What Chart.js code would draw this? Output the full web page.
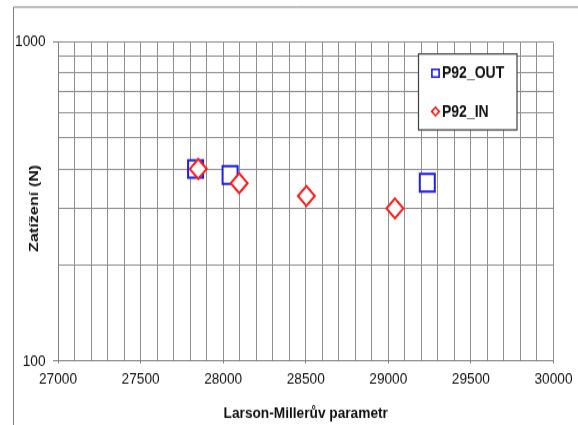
<!DOCTYPE html>
<html>
<head>
<meta charset="utf-8">
<script src="https://cdn.jsdelivr.net/npm/chart.js@4/dist/chart.umd.min.js"></script>
<style>
  html, body { margin: 0; padding: 0; background: #fff; overflow: hidden; }
  /* the drawing is made 360px tall and stretched to the full 425px window height */
  #wrap { position: absolute; left: 0; top: 0; width: 578px; height: 360px;
          transform: scaleY(1.18056); transform-origin: 0 0; }
</style>
</head>
<body>
<div id="wrap"><canvas id="chart"></canvas></div>
<script>
// Creep test results: Larson-Miller parameter vs. load
const seriesNames = ['P92_OUT', 'P92_IN'];
const outParam = [27833, 28042, 29236];
const outLoad  = [400, 383, 362];
const inParam  = [27849, 28097, 28504, 29040];
const inLoad   = [400, 361, 329, 301];

const xTickLabels = [27000, 27500, 28000, 28500, 29000, 29500, 30000];
const yGridValues = [100, 200, 300, 400, 500, 600, 700, 800, 900, 1000];
const yTickLabels = [100, 1000];
const xTitle = 'Larson-Millerův parametr';
const yTitle = 'Zatížení (N)';

const BLUE = '#1e1ee6';
const RED = '#ff1a1a';
const GRID = '#8f8f8f';
const FONT = "'Liberation Sans', Arial, sans-serif";

Chart.defaults.font.family = FONT;

const pts = (xs, ys) => xs.map((x, i) => ({ x: x, y: ys[i] }));

// outer frame of the figure
const framePlugin = {
  id: 'frame',
  beforeDraw(chart) {
    const ctx = chart.ctx;
    ctx.save();
    ctx.fillStyle = '#fff';
    ctx.fillRect(0, 0, chart.width, chart.height);
    ctx.strokeStyle = '#808080';
    ctx.lineWidth = 1;
    ctx.beginPath();
    ctx.moveTo(13.5, chart.height + 2);
    ctx.lineTo(13.5, 6);
    ctx.lineTo(chart.width + 2, 6);
    ctx.stroke();
    ctx.restore();
  }
};

// vertical axis title
const yTitlePlugin = {
  id: 'yTitle',
  afterDraw(chart) {
    const ctx = chart.ctx;
    ctx.save();
    ctx.translate(34, 176.5);
    ctx.rotate(-Math.PI / 2);
    ctx.font = 'bold 13.7px ' + FONT;
    ctx.fillStyle = '#111';
    ctx.textAlign = 'center';
    ctx.textBaseline = 'middle';
    ctx.fillText(yTitle, 0, 0);
    ctx.restore();
  }
};

// boxed legend sitting inside the plot area
const legendBoxPlugin = {
  id: 'legendBox',
  afterDraw(chart) {
    const ctx = chart.ctx;
    const box = { l: 418.5, t: 45.7, r: 517, b: 110 };
    ctx.save();
    ctx.fillStyle = '#fff';
    ctx.fillRect(box.l, box.t, box.r - box.l, box.b - box.t);
    ctx.strokeStyle = '#404040';
    ctx.lineWidth = 1.2;
    ctx.strokeRect(box.l, box.t, box.r - box.l, box.b - box.t);

    const rows = [62.0, 94.4];
    chart.data.datasets.forEach((ds, i) => {
      const cx = 435.5, cy = rows[i];
      ctx.lineWidth = 1.6;
      ctx.strokeStyle = ds.pointBorderColor;
      ctx.beginPath();
      if (ds.pointStyle === 'rect') {
        ctx.rect(cx - 3.6, cy - 3.3, 7.2, 6.6);
      } else {
        ctx.moveTo(cx - 3.8, cy);
        ctx.lineTo(cx, cy - 3.6);
        ctx.lineTo(cx + 3.8, cy);
        ctx.lineTo(cx, cy + 3.6);
        ctx.closePath();
      }
      ctx.stroke();
      ctx.font = 'bold 14px ' + FONT;
      ctx.fillStyle = '#111';
      ctx.textAlign = 'left';
      ctx.textBaseline = 'middle';
      ctx.fillText(ds.label, 442, cy + 0.3);
    });
    ctx.restore();
  }
};

new Chart(document.getElementById('chart'), {
  type: 'scatter',
  data: {
    datasets: [
      {
        label: seriesNames[0],
        data: pts(outParam, outLoad),
        order: 2,
        pointStyle: 'rect',
        pointRadius: 10.6,
        pointHoverRadius: 10.6,
        pointBorderWidth: 2,
        pointBorderColor: BLUE,
        pointBackgroundColor: '#fff'
      },
      {
        label: seriesNames[1],
        data: pts(inParam, inLoad),
        order: 1,
        pointStyle: 'rectRot',
        pointRadius: 8.4,
        pointHoverRadius: 8.4,
        pointBorderWidth: 2,
        pointBorderColor: RED,
        pointBackgroundColor: '#fff'
      }
    ]
  },
  options: {
    responsive: true,
    maintainAspectRatio: false,
    animation: false,
    layout: { padding: { top: 35.6, right: 24, bottom: 0, left: 0 } },
    plugins: {
      legend: { display: false },
      tooltip: { enabled: false }
    },
    scales: {
      x: {
        type: 'linear',
        min: 27000,
        max: 30000,
        afterFit(scale) { scale.height = 54.2; },
        border: { color: '#808080', width: 1 },
        grid: {
          color: GRID,
          lineWidth: 1,
          tickLength: 2,
          tickColor: (c) => (c.tick && xTickLabels.includes(c.tick.value)) ? '#808080' : 'rgba(0,0,0,0)'
        },
        ticks: {
          stepSize: 100,
          autoSkip: false,
          maxRotation: 0,
          padding: 5.5,
          color: '#111',
          font: { size: 13.7 },
          callback: (v) => xTickLabels.includes(v) ? String(v) : ''
        },
        title: {
          display: true,
          text: xTitle,
          color: '#111',
          font: { size: 13.7, weight: 'bold' },
          padding: { top: 0, bottom: 2 }
        }
      },
      y: {
        type: 'logarithmic',
        min: 100,
        max: 1000,
        afterFit(scale) { scale.width = 58; },
        afterBuildTicks(scale) {
          scale.ticks = yGridValues.map((v) => ({ value: v }));
        },
        border: { color: '#808080', width: 1 },
        grid: {
          color: GRID,
          lineWidth: 1,
          tickLength: 5,
          tickColor: (c) => (c.tick && yTickLabels.includes(c.tick.value)) ? '#808080' : 'rgba(0,0,0,0)'
        },
        ticks: {
          autoSkip: false,
          padding: 7.5,
          color: '#111',
          font: { size: 13.7 },
          callback: (v) => yTickLabels.includes(v) ? String(v) : ''
        }
      }
    }
  },
  plugins: [framePlugin, yTitlePlugin, legendBoxPlugin]
});
</script>
</body>
</html>
